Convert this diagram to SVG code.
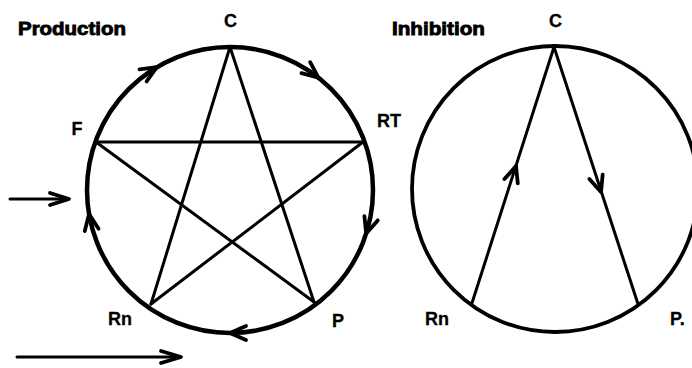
<svg xmlns="http://www.w3.org/2000/svg" width="692" height="368" viewBox="0 0 692 368">
<style>
.bg{fill:#fff}
.title{font-family:"Liberation Sans",Arial,sans-serif;font-weight:bold;font-size:19px;fill:#000;stroke:#000;stroke-width:0.9}
.lbl{font-family:"Liberation Sans",Arial,sans-serif;font-weight:bold;font-size:18px;fill:#000;stroke:#000;stroke-width:0.3}
.ring{fill:none;stroke:#000;stroke-width:4.5}
.ring2{fill:none;stroke:#000;stroke-width:3.8}
.edge{fill:none;stroke:#000;stroke-width:3;stroke-linecap:round}
.chev{fill:none;stroke:#000;stroke-width:3.8;stroke-linecap:round;stroke-linejoin:round}
</style>
<rect class="bg" x="0" y="0" width="692" height="368"/>

<text class="title" x="18" y="35" textLength="108" lengthAdjust="spacingAndGlyphs">Production</text>
<text class="title" x="392" y="35" textLength="93" lengthAdjust="spacingAndGlyphs">Inhibition</text>

<g id="production-cycle">
  <circle class="ring" cx="230" cy="190" r="143"/>
</g>
<g id="inhibition-cycle">
  <circle class="ring2" cx="555" cy="189" r="143"/>
</g>

<g id="node-C"><text class="lbl" x="230.5" y="27" text-anchor="middle">C</text></g>
<g id="node-F"><text class="lbl" x="77" y="135" text-anchor="middle">F</text></g>
<g id="node-RT"><text class="lbl" x="377" y="127">RT</text></g>
<g id="node-Rn"><text class="lbl" x="108" y="325">Rn</text></g>
<g id="node-P"><text class="lbl" x="338" y="327" text-anchor="middle">P</text></g>

<g id="node-C2"><text class="lbl" x="555.5" y="27" text-anchor="middle">C</text></g>
<g id="node-Rn2"><text class="lbl" x="425" y="325">Rn</text></g>
<g id="node-P2"><text class="lbl" x="670" y="325">P.</text></g>

<g id="connectors">
  <!-- star -->
  <path class="edge" d="M230 47 L151 304"/>
  <path class="edge" d="M230 47 L314 302"/>
  <path class="edge" d="M96 142 L363 142"/>
  <path class="edge" d="M96 142 L314 302"/>
  <path class="edge" d="M363 142 L151 304"/>
  <!-- circulation arrowheads on the ring (clockwise) -->
  <path class="chev" d="M-16 -7 L0 0 L-16 7" transform="translate(156.8,67.2) rotate(-30.8)"/>
  <path class="chev" d="M-16 -7 L0 0 L-16 7" transform="translate(318.4,77.6) rotate(38.2)"/>
  <path class="chev" d="M-16 -7 L0 0 L-16 7" transform="translate(366.2,233.5) rotate(107.7)"/>
  <path class="chev" d="M-16 -7 L0 0 L-16 7" transform="translate(230,333) rotate(180)"/>
  <path class="chev" d="M-16 -7 L0 0 L-16 7" transform="translate(89,214.1) rotate(-99.7)"/>
  <!-- inhibition lines -->
  <path class="edge" d="M472 303 L554 47"/>
  <path class="edge" d="M554 47 L638 304"/>
  <path class="chev" d="M-16 -7 L0 0 L-16 7" transform="translate(516,166) rotate(-72.2)"/>
  <path class="chev" d="M-16 -7 L0 0 L-16 7" transform="translate(601,192) rotate(71.9)"/>
  <!-- side arrows -->
  <path class="edge" d="M10 199 L68 199"/>
  <path class="chev" d="M50 193 L69 199 L50 205"/>
  <path class="edge" d="M17 357 L180 357"/>
  <path class="chev" d="M161 351 L181 357 L161 363"/>
</g>
</svg>
